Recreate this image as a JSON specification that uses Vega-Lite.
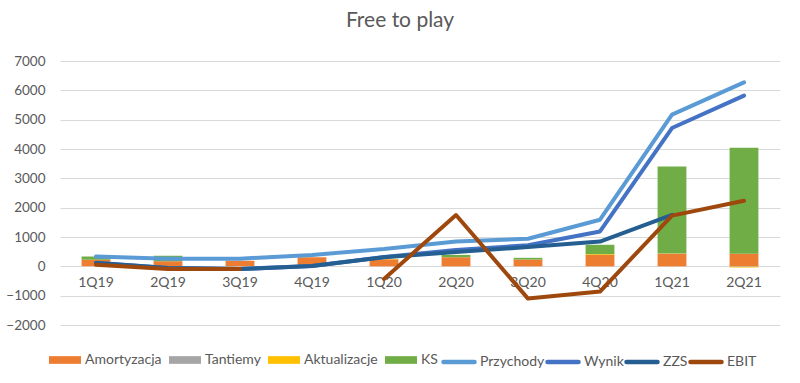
{
  "$schema": "https://vega.github.io/schema/vega-lite/v6.json",
  "width": 720,
  "height": 264,
  "autosize": {"type": "none"},
  "padding": {"left": 60, "top": 61, "right": 20, "bottom": 58},
  "background": "white",
  "config": {"view": {"stroke": null}, "font": "Lato"},
  "title": {"text": "Free to play", "font": "Lato", "fontSize": 21, "fontWeight": "normal", "color": "#595959", "dx": -20, "offset": 23},
  "data": {"values": [
    {"q": "1Q19", "s": "Amortyzacja", "v": 225},
    {"q": "2Q19", "s": "Amortyzacja", "v": 170},
    {"q": "3Q19", "s": "Amortyzacja", "v": 190},
    {"q": "4Q19", "s": "Amortyzacja", "v": 310},
    {"q": "1Q20", "s": "Amortyzacja", "v": 240},
    {"q": "2Q20", "s": "Amortyzacja", "v": 310},
    {"q": "3Q20", "s": "Amortyzacja", "v": 230},
    {"q": "4Q20", "s": "Amortyzacja", "v": 390},
    {"q": "1Q21", "s": "Amortyzacja", "v": 430},
    {"q": "2Q21", "s": "Amortyzacja", "v": 430},
    {"q": "1Q19", "s": "Tantiemy", "v": 0},
    {"q": "2Q19", "s": "Tantiemy", "v": 0},
    {"q": "3Q19", "s": "Tantiemy", "v": 0},
    {"q": "4Q19", "s": "Tantiemy", "v": 0},
    {"q": "1Q20", "s": "Tantiemy", "v": 0},
    {"q": "2Q20", "s": "Tantiemy", "v": 0},
    {"q": "3Q20", "s": "Tantiemy", "v": 0},
    {"q": "4Q20", "s": "Tantiemy", "v": 0},
    {"q": "1Q21", "s": "Tantiemy", "v": 0},
    {"q": "2Q21", "s": "Tantiemy", "v": -15},
    {"q": "1Q19", "s": "Aktualizacje", "v": 0},
    {"q": "2Q19", "s": "Aktualizacje", "v": 0},
    {"q": "3Q19", "s": "Aktualizacje", "v": 0},
    {"q": "4Q19", "s": "Aktualizacje", "v": 0},
    {"q": "1Q20", "s": "Aktualizacje", "v": 15},
    {"q": "2Q20", "s": "Aktualizacje", "v": 0},
    {"q": "3Q20", "s": "Aktualizacje", "v": 0},
    {"q": "4Q20", "s": "Aktualizacje", "v": 25},
    {"q": "1Q21", "s": "Aktualizacje", "v": 5},
    {"q": "2Q21", "s": "Aktualizacje", "v": -25},
    {"q": "1Q19", "s": "KS", "v": 110},
    {"q": "2Q19", "s": "KS", "v": 190},
    {"q": "3Q19", "s": "KS", "v": 0},
    {"q": "4Q19", "s": "KS", "v": 0},
    {"q": "1Q20", "s": "KS", "v": 0},
    {"q": "2Q20", "s": "KS", "v": 80},
    {"q": "3Q20", "s": "KS", "v": 60},
    {"q": "4Q20", "s": "KS", "v": 320},
    {"q": "1Q21", "s": "KS", "v": 2965},
    {"q": "2Q21", "s": "KS", "v": 3615},
    {"q": "1Q19", "s": "Przychody", "v": 335},
    {"q": "2Q19", "s": "Przychody", "v": 260},
    {"q": "3Q19", "s": "Przychody", "v": 260},
    {"q": "4Q19", "s": "Przychody", "v": 390},
    {"q": "1Q20", "s": "Przychody", "v": 590},
    {"q": "2Q20", "s": "Przychody", "v": 846},
    {"q": "3Q20", "s": "Przychody", "v": 940},
    {"q": "4Q20", "s": "Przychody", "v": 1590},
    {"q": "1Q21", "s": "Przychody", "v": 5170},
    {"q": "2Q21", "s": "Przychody", "v": 6270},
    {"q": "1Q19", "s": "Wynik", "v": 120},
    {"q": "2Q19", "s": "Wynik", "v": -55},
    {"q": "3Q19", "s": "Wynik", "v": -90},
    {"q": "4Q19", "s": "Wynik", "v": 15},
    {"q": "1Q20", "s": "Wynik", "v": 320},
    {"q": "2Q20", "s": "Wynik", "v": 560},
    {"q": "3Q20", "s": "Wynik", "v": 720},
    {"q": "4Q20", "s": "Wynik", "v": 1190},
    {"q": "1Q21", "s": "Wynik", "v": 4715},
    {"q": "2Q21", "s": "Wynik", "v": 5820},
    {"q": "1Q19", "s": "ZZS", "v": 110},
    {"q": "2Q19", "s": "ZZS", "v": -55},
    {"q": "3Q19", "s": "ZZS", "v": -95},
    {"q": "4Q19", "s": "ZZS", "v": 15},
    {"q": "1Q20", "s": "ZZS", "v": 310},
    {"q": "2Q20", "s": "ZZS", "v": 485},
    {"q": "3Q20", "s": "ZZS", "v": 655},
    {"q": "4Q20", "s": "ZZS", "v": 846},
    {"q": "1Q21", "s": "ZZS", "v": 1757},
    {"q": "1Q19", "s": "EBIT", "v": 50},
    {"q": "2Q19", "s": "EBIT", "v": -95},
    {"q": "3Q19", "s": "EBIT", "v": -90},
    {"q": "4Q19", "s": "EBIT", "v": null},
    {"q": "1Q20", "s": "EBIT", "v": -430},
    {"q": "2Q20", "s": "EBIT", "v": 1750},
    {"q": "3Q20", "s": "EBIT", "v": -1100},
    {"q": "4Q20", "s": "EBIT", "v": -860},
    {"q": "1Q21", "s": "EBIT", "v": 1730},
    {"q": "2Q21", "s": "EBIT", "v": 2235}
  ]},
  "transform": [
    {"calculate": "indexof(['1Q19','2Q19','3Q19','4Q19','1Q20','2Q20','3Q20','4Q20','1Q21','2Q21'], datum.q)", "as": "qi"},
    {"calculate": "indexof(['Amortyzacja','Tantiemy','Aktualizacje','KS'], datum.s)", "as": "si"}
  ],
  "encoding": {
    "x": {
      "field": "q", "type": "nominal",
      "sort": ["1Q19","2Q19","3Q19","4Q19","1Q20","2Q20","3Q20","4Q20","1Q21","2Q21"],
      "scale": {"paddingInner": 0.6, "paddingOuter": 0.3},
      "axis": {"title": null, "orient": "bottom", "offset": -58.7, "domain": false, "ticks": false, "grid": false, "labelAngle": 0, "labelPadding": 9, "labelFont": "Lato", "labelFontSize": 14, "labelColor": "#595959"}
    },
    "y": {
      "field": "v", "type": "quantitative",
      "scale": {"domain": [-2000, 7000], "nice": false},
      "axis": {"title": null, "values": [-2000,-1000,0,1000,2000,3000,4000,5000,6000,7000], "tickCount": 20, "format": "d", "labelOverlap": false, "domain": false, "ticks": false, "labelPadding": 15, "gridColor": "#D9D9D9", "gridWidth": 1, "labelFont": "Lato", "labelFontSize": 13.5, "labelColor": "#595959"}
    }
  },
  "layer": [
    {
      "transform": [{"filter": "datum.si >= 0"}],
      "mark": {"type": "bar"},
      "encoding": {
        "y": {
          "field": "v", "type": "quantitative", "stack": "zero",
          "scale": {"domain": [-2000, 7000], "nice": false},
          "axis": {"title": null, "values": [-2000,-1000,0,1000,2000,3000,4000,5000,6000,7000], "tickCount": 20, "format": "d", "labelOverlap": false, "domain": false, "ticks": false, "labelPadding": 15, "gridColor": "#D9D9D9", "gridWidth": 1, "labelFont": "Lato", "labelFontSize": 13.5, "labelColor": "#595959"}
        },
        "fill": {
          "field": "s", "type": "nominal",
          "scale": {"domain": ["Amortyzacja","Tantiemy","Aktualizacje","KS"], "range": ["#ED7D31","#A5A5A5","#FFC000","#70AD47"]},
          "legend": {"orient": "none", "legendX": -11, "legendY": 283, "direction": "horizontal", "columns": 4, "title": null, "symbolType": "M-1,-0.24H1V0.24H-1Z", "symbolSize": 1024, "symbolStrokeWidth": 0, "labelFont": "Lato", "labelFontSize": 14, "labelColor": "#595959", "labelOffset": 4, "columnPadding": 7}
        },
        "order": {"field": "si"}
      }
    },
    {
      "transform": [{"filter": "datum.si < 0"}],
      "mark": {"type": "line", "strokeWidth": 4, "strokeCap": "round", "strokeJoin": "round", "invalid": "break-paths-filter-domains"},
      "encoding": {
        "stroke": {
          "field": "s", "type": "nominal",
          "scale": {"domain": ["Przychody","Wynik","ZZS","EBIT"], "range": ["#5B9BD5","#4472C4","#255E91","#9E480E"]},
          "legend": {"orient": "none", "legendX": 381, "legendY": 283, "direction": "horizontal", "columns": 4, "title": null, "symbolType": "stroke", "symbolSize": 961, "symbolStrokeWidth": 4.5, "labelFont": "Lato", "labelFontSize": 14, "labelColor": "#595959", "labelOffset": 3, "columnPadding": -10,
            "encode": {"symbols": {"update": {"strokeCap": {"value": "round"}}}}}
        },
        "order": {"field": "qi"}
      }
    }
  ]
}
